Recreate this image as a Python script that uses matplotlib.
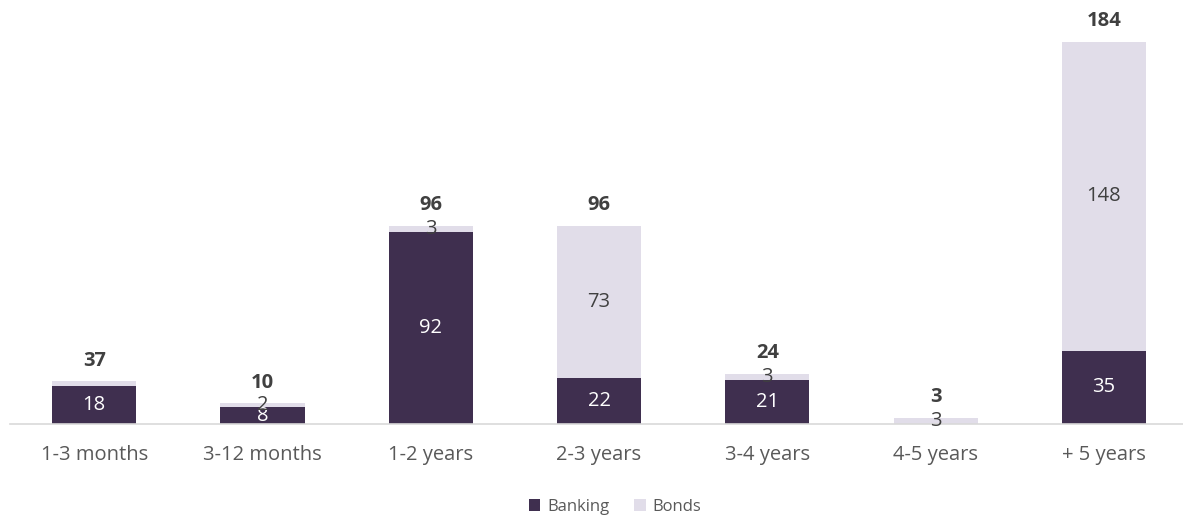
import matplotlib
matplotlib.use("Agg")
import matplotlib.pyplot as plt

# Maturity profile: banking vs bonds
categories = ["1-3 months", "3-12 months", "1-2 years", "2-3 years",
              "3-4 years", "4-5 years", "+ 5 years"]
banking = [18, 8, 92, 22, 21, 0, 35]
bonds = [2.5, 2, 3, 73, 3, 3, 148]
bonds_labels = ["", "2", "3", "73", "3", "3", "148"]
totals = [37, 10, 96, 96, 24, 3, 184]

dark = "#3f2f4f"
light = "#e1dde9"
grey = "#595959"

plt.rcParams["font.family"] = ["Open Sans", "DejaVu Sans"]

fig = plt.figure(figsize=(11.83, 5.2), dpi=100)
ax = fig.add_axes([10 / 1183, 96 / 520, 1173 / 1183, 424 / 520])

x = range(len(categories))
ax.bar(x, banking, width=0.5, color=dark, label="Banking")
ax.bar(x, bonds, width=0.5, bottom=banking, color=light, label="Bonds")

# segment labels
for i in x:
    if banking[i] > 0:
        ax.text(i, banking[i] / 2, str(banking[i]), ha="center", va="center",
                color="white", fontsize=14.5)
    if bonds_labels[i]:
        ax.text(i, banking[i] + bonds[i] / 2, bonds_labels[i], ha="center",
                va="center", color="#404040", fontsize=14.5)
    top = banking[i] + bonds[i]
    ax.text(i, top + 5, str(totals[i]), ha="center", va="bottom",
            color="#404040", fontsize=14.5, fontweight="bold")

ax.set_xlim(-0.5, 6.47)
ax.set_ylim(0, 203)
ax.set_xticks(list(x))
ax.set_xticklabels(categories, fontsize=14.5, color=grey)
ax.tick_params(axis="x", length=0, pad=15)
ax.set_yticks([])
for side in ["top", "left", "right"]:
    ax.spines[side].set_visible(False)
ax.spines["bottom"].set_color("#d9d9d9")
ax.spines["bottom"].set_linewidth(1.2)

fig.legend(loc="center", bbox_to_anchor=(0.52, 0.025), ncol=2, frameon=False,
           fontsize=12, labelcolor=grey, handlelength=0.7, handleheight=0.7,
           handletextpad=0.4, columnspacing=1.5)

fig.savefig("out.png", dpi=100)
